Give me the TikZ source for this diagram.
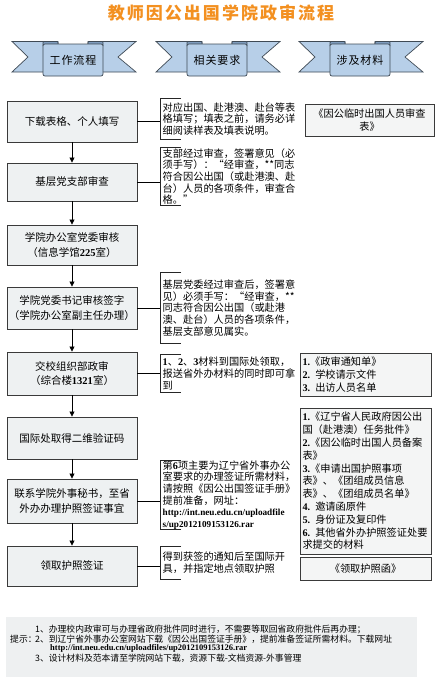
\documentclass[tikz,border=0pt]{standalone}
\usepackage{fontspec}
\setmainfont{Noto Sans CJK SC}
\newfontfamily\lat{Liberation Serif}
\usetikzlibrary{arrows.meta,calc}
\definecolor{titleor}{HTML}{F39020}
\definecolor{boxline}{HTML}{3A3A3A}
\definecolor{boxfill}{HTML}{EEF1F2}
\definecolor{matfill}{HTML}{F4F5F5}
\definecolor{ribbon}{HTML}{B7CFE8}
\definecolor{fold}{HTML}{7F9DBE}
\definecolor{ribline}{HTML}{3F4A55}
\definecolor{tipbg}{HTML}{EEF0F1}
\newcommand\ltb[1]{{\lat\bfseries #1}}
\begin{document}
\begin{tikzpicture}[x=1pt,y=-1pt,
  flow/.style={draw=boxline, fill=boxfill, line width=0.9pt, minimum width=130pt,
    inner sep=0pt, align=center, font=\fontsize{10.5}{14.3}\selectfont},
  note/.style={anchor=west, inner xsep=2.5pt, inner ysep=0pt, align=left,
    font=\fontsize{10.2}{11.7}\selectfont},
  mat/.style={draw=boxline, fill=matfill, line width=0.8pt, inner xsep=2pt, inner ysep=0pt,
    font=\fontsize{10.2}{12.8}\selectfont},
  bannerbox/.style={draw=ribline, fill=ribbon, line width=0.7pt, rounded corners=2pt,
    minimum width=60pt, minimum height=32pt, inner sep=0pt,
    font=\fontsize{11}{13}\selectfont\addfontfeatures{LetterSpace=8}},
  flowarrow/.style={-{Triangle[length=5pt,width=5pt]}, line width=0.8pt, black},
  conn/.style={line width=0.6pt, black},
  brk/.style={line width=0.8pt, black!85},
  tip/.style={anchor=west, inner sep=0pt, font=\fontsize{8.8}{10}\selectfont},
]
\useasboundingbox (0,0) rectangle (440,683);
\fill[white] (0,0) rectangle (440,683);

% title
\node[font=\fontsize{17}{20}\selectfont\bfseries\addfontfeatures{LetterSpace=12}, text=titleor]
  (title) at (221,12.5) {教师因公出国学院政审流程};

% banners
\foreach \c/\lab/\nm in {73/工作流程/h1, 217/相关要求/h2, 360/涉及材料/h3}{
  \filldraw[fill=ribbon, draw=ribline, line width=0.7pt]
    (\c-61,41.5) -- (\c-15,41.5) -- (\c-15,72) -- (\c-61,72) -- (\c-45,57) -- cycle;
  \filldraw[fill=ribbon, draw=ribline, line width=0.7pt]
    (\c+63,41.5) -- (\c+15,41.5) -- (\c+15,72) -- (\c+63,72) -- (\c+45,57) -- cycle;
  \filldraw[fill=fold, draw=ribline, line width=0.7pt, rounded corners=1pt]
    (\c-30,46) -- (\c-30,41.5) -- (\c-15,41.5) -- (\c-15,46);
  \filldraw[fill=fold, draw=ribline, line width=0.7pt, rounded corners=1pt]
    (\c+30,46) -- (\c+30,41.5) -- (\c+15,41.5) -- (\c+15,46);
  \node[bannerbox] (\nm) at (\c,60) {\lab};
}

% flow boxes
\node[flow, minimum height=41pt] (b1) at (72,121.5) {下载表格、个人填写};
\node[flow, minimum height=38pt] (b2) at (72,182) {基层党支部审查};
\node[flow, minimum height=40pt] (b3) at (72,245) {学院办公室党委审核\\（信息学馆\ltb{225}室）};
\node[flow, minimum height=42pt] (b4) at (72,308) {学院党委书记审核签字\\（学院办公室副主任办理）};
\node[flow, minimum height=43pt] (b5) at (72,373.5) {交校组织部政审\\（综合楼\ltb{1321}室）};
\node[flow, minimum height=42pt] (b6) at (72,438) {国际处取得二维验证码};
\node[flow, minimum height=44pt] (b7) at (72,501) {联系学院外事秘书，至省\\外办办理护照签证事宜};
\node[flow, minimum height=40pt] (b8) at (72,566) {领取护照签证};

\foreach \a/\b in {b1/b2,b2/b3,b3/b4,b4/b5,b5/b6,b6/b7,b7/b8}
  \draw[flowarrow] (\a.south) -- (\b.north);

% notes (middle column)
\node[note, minimum height=40pt] (n1) at (160,119) {对应出国、赴港澳、赴台等表\\格填写；填表之前，请务必详\\细阅读样表及填表说明。};
\node[note, minimum height=57pt] (n2) at (160,176.5) {支部经过审查，签署意见（必\\须手写）：“经审查，**同志\\符合因公出国（或赴港澳、赴\\台）人员的各项条件，审查合\\格。”};
\node[note, minimum height=70pt] (n4) at (160,308) {基层党委经过审查后，签署意\\见）必须手写：“经审查，**\\同志符合因公出国（或赴港\\澳、赴台）人员的各项条件，\\基层支部意见属实。};
\node[note, minimum height=37pt] (n5) at (160,373.5) {\ltb{1}、\ltb{2}、\ltb{3}材料到国际处领取，\\报送省外办材料的同时即可拿\\到};
\node[note, minimum height=64pt] (n7) at (160,495) {第\ltb{6}项主要为辽宁省外事办公\\室要求的办理签证所需材料，\\请按照《因公出国签证手册》\\提前准备，网址：\\{\lat\bfseries\fontsize{9.2}{11.7}\selectfont http://int.neu.edu.cn/uploadfile}\\{\lat\bfseries\fontsize{9.2}{11.7}\selectfont s/up2012109153126.rar}};
\node[note, minimum height=32pt] (n8) at (160,563) {得到获签的通知后至国际开\\具，并指定地点领取护照};

\foreach \b/\n in {b1/n1,b2/n2,b4/n4,b5/n5,b7/n7,b8/n8}{
  \draw[conn] (\b.east) -- (\b.east -| \n.west);
  \draw[brk] ([xshift=21pt]\n.north west) -- (\n.north west) -- (\n.south west) -- ([xshift=21pt]\n.south west);
}

% materials (right column)
\node[mat, minimum width=129pt, minimum height=32pt, text width=124pt, align=center] (r1) at (369.5,120) {《因公临时出国人员审查\\表》};
\node[mat, minimum width=131pt, minimum height=43pt, text width=126pt, align=left] (r2) at (365.5,374.5) {\ltb{1.}《政审通知单》\\\ltb{2.} 学校请示文件\\\ltb{3.} 出访人员名单};
\node[mat, minimum width=131pt, minimum height=146pt, text width=126pt, align=left] (r3) at (365.5,481) {\ltb{1.}《辽宁省人民政府因公出\\国（赴港澳）任务批件》\\\ltb{2.}《因公临时出国人员备案\\表》\\\ltb{3.}《申请出国护照事项\\表》、《团组成员信息\\表》、《团组成员名单》\\\ltb{4.} 邀请函原件\\\ltb{5.} 身份证及复印件\\\ltb{6.} 其他省外办护照签证处要\\求提交的材料};
\node[mat, minimum width=131pt, minimum height=23pt, text width=126pt, align=center] (r4) at (365.5,568.5) {《领取护照函》};

% tips
\fill[tipbg] (6,617) rectangle (417,677);
\node[tip] (tp) at (10,639) {提示：};
\node[tip] (t1) at (35,629) {1、办理校内政审可与办理省政府批件同时进行，不需要等取回省政府批件后再办理；};
\node[tip] (t2) at (35,639) {2、到辽宁省外事办公室网站下载《因公出国签证手册》，提前准备签证所需材料。下载网址};
\node[tip, font=\lat\bfseries\fontsize{8.5}{10}\selectfont] (t3) at (50,648.5) {http://int.neu.edu.cn/uploadfiles/up2012109153126.rar};
\node[tip] (t4) at (35,658) {3、设计材料及范本请至学院网站下载，资源下载-文档资源-外事管理};
\end{tikzpicture}
\end{document}
